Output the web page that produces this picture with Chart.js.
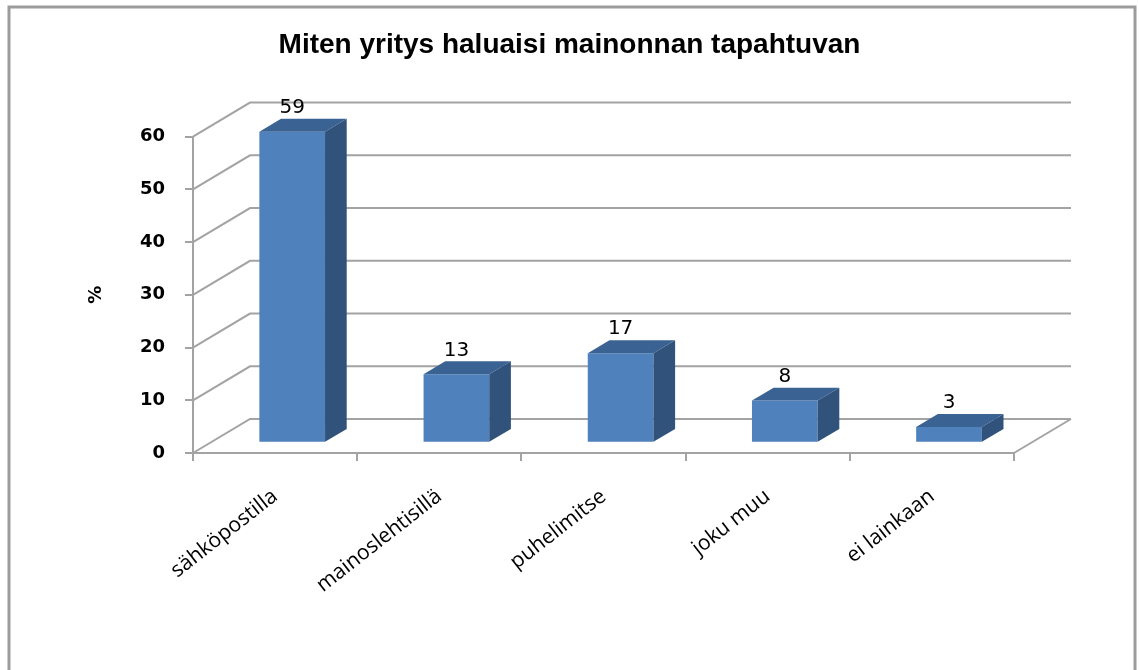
<!DOCTYPE html>
<html lang="fi">
<head>
<meta charset="UTF-8">
<title>Miten yritys haluaisi mainonnan tapahtuvan</title>
<script src="https://cdn.jsdelivr.net/npm/chart.js"></script>
<style>
  html, body { margin: 0; padding: 0; background: #fff; }
</style>
</head>
<body>
<canvas id="chart" width="1139" height="670"></canvas>
<script>
  // data
  const categories = ['sähköpostilla', 'mainoslehtisillä', 'puhelimitse', 'joku muu', 'ei lainkaan'];
  const values     = [59, 13, 17, 8, 3];
  const yMin = 0, yMax = 60, yStep = 10;

  // colours
  const frontCol = '#4f81bd';
  const topCol   = '#3a6393';
  const sideCol  = '#30527b';
  const lineCol  = '#a3a3a3';

  // 3D look: floor depth (front -> back wall) and where the bars sit in it
  const depth = { x: 57, y: -34 };
  const barFront = 0.3;   // fraction of the depth to the bars' front face
  const barDepth = 0.38;  // bar thickness as fraction of the depth

  const depthPlugin = {
    id: 'depth3d',
    beforeDraw(chart) {
      const ctx = chart.ctx;
      ctx.save();
      ctx.strokeStyle = '#9c9c9c';
      ctx.lineWidth = 3;
      ctx.beginPath();
      ctx.moveTo(9, 670); ctx.lineTo(9, 7); ctx.lineTo(1135, 7); ctx.lineTo(1135, 670);
      ctx.stroke();
      ctx.restore();
    },
    beforeDatasetsDraw(chart) {
      const { ctx, chartArea: a, scales: { y } } = chart;
      ctx.save();
      ctx.strokeStyle = lineCol;
      ctx.lineWidth = 2;
      ctx.beginPath();
      y.ticks.forEach(t => {
        const py = y.getPixelForValue(t.value);
        ctx.moveTo(a.left, py);
        ctx.lineTo(a.left + depth.x, py + depth.y);
        ctx.lineTo(a.right + depth.x, py + depth.y);
      });
      // right edge of the floor
      ctx.moveTo(a.right, a.bottom);
      ctx.lineTo(a.right + depth.x, a.bottom + depth.y);
      ctx.stroke();
      ctx.restore();
      // move the bars back into the box
      ctx.save();
      ctx.translate(depth.x * barFront, depth.y * barFront);
    },
    afterDatasetsDraw(chart) {
      const ctx = chart.ctx;
      const dx = depth.x * barDepth, dy = depth.y * barDepth;
      chart.getDatasetMeta(0).data.forEach((bar, i) => {
        const l = bar.x - bar.width / 2, r = bar.x + bar.width / 2;
        const top = bar.y, base = bar.base;
        ctx.fillStyle = topCol;
        ctx.beginPath();
        ctx.moveTo(l, top); ctx.lineTo(r, top); ctx.lineTo(r + dx, top + dy); ctx.lineTo(l + dx, top + dy);
        ctx.closePath(); ctx.fill();
        ctx.fillStyle = sideCol;
        ctx.beginPath();
        ctx.moveTo(r, top); ctx.lineTo(r + dx, top + dy); ctx.lineTo(r + dx, base + dy); ctx.lineTo(r, base);
        ctx.closePath(); ctx.fill();
        // value label
        ctx.fillStyle = '#000';
        ctx.font = '20px "DejaVu Sans"';
        ctx.textAlign = 'center';
        ctx.textBaseline = 'middle';
        ctx.fillText(String(values[i]), bar.x, top + dy - 11);
      });
      ctx.restore();
    }
  };

  new Chart(document.getElementById('chart'), {
    type: 'bar',
    data: {
      labels: categories,
      datasets: [{
        data: values,
        backgroundColor: frontCol,
        borderWidth: 0,
        barPercentage: 0.4,
        categoryPercentage: 1
      }]
    },
    options: {
      responsive: false,
      animation: false,
      events: [],
      layout: { padding: 0 },
      plugins: {
        legend: { display: false },
        tooltip: { enabled: false },
        title: {
          display: true,
          text: 'Miten yritys haluaisi mainonnan tapahtuvan',
          color: '#000',
          font: { family: 'Liberation Sans', size: 28, weight: 'bold' },
          padding: { top: 28, bottom: 75 }
        }
      },
      scales: {
        x: {
          afterFit(s) { s.height = 217; },
          grid: { drawOnChartArea: false, color: lineCol, lineWidth: 2, tickLength: 8 },
          border: { color: lineCol, width: 2 },
          ticks: {
            color: '#000',
            minRotation: 38, maxRotation: 38,
            padding: 23,
            font: { family: 'Open Sans', size: 21 }
          }
        },
        y: {
          min: yMin, max: yMax,
          afterFit(s) { s.width = 193; },
          grid: { drawOnChartArea: false, color: lineCol, lineWidth: 2, tickLength: 8 },
          border: { color: lineCol, width: 2 },
          title: {
            display: true, text: '%', color: '#000',
            font: { family: 'DejaVu Sans', size: 18, weight: 'bold' },
            padding: { top: 86, bottom: 0 }
          },
          ticks: {
            stepSize: yStep,
            color: '#000',
            padding: 20,
            font: { family: 'DejaVu Sans', size: 18, weight: 'bold' }
          }
        },
        // empty axis that only keeps room free on the right for the 3D depth
        side: {
          position: 'right',
          afterFit(s) { s.width = 125; },
          grid: { display: false },
          border: { display: false },
          ticks: { display: false }
        }
      }
    },
    plugins: [depthPlugin]
  });
</script>
</body>
</html>
